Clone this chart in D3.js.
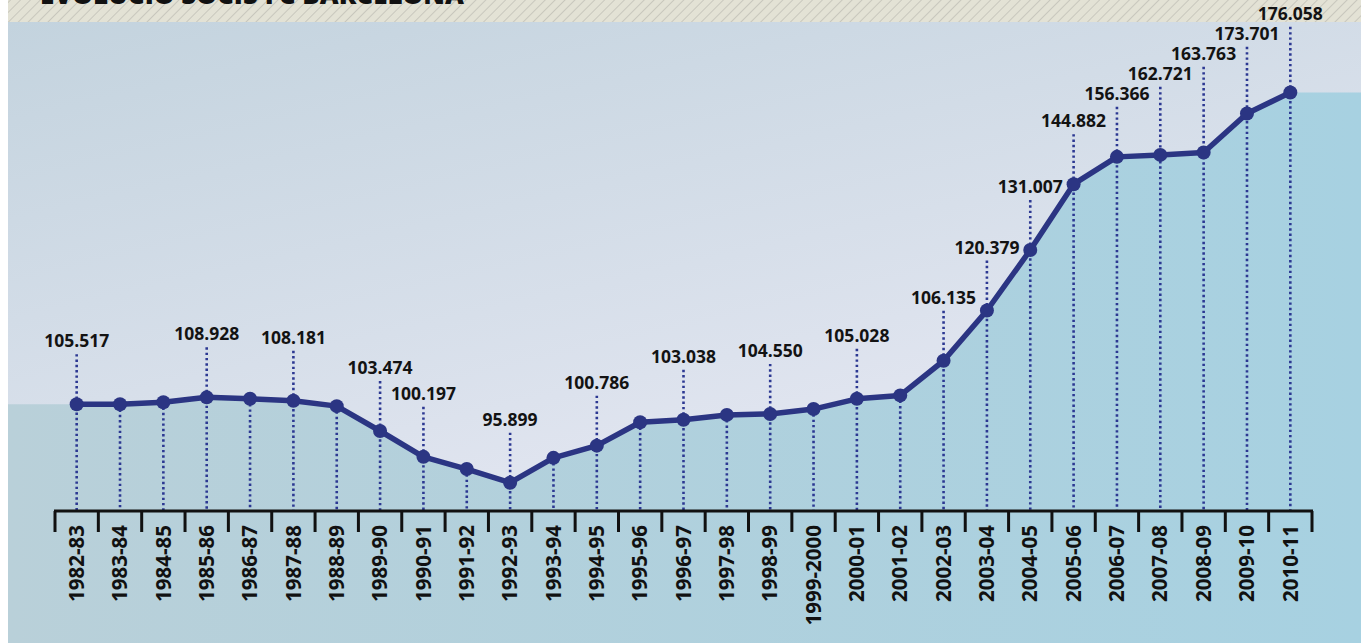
<!DOCTYPE html>
<html>
<head>
<meta charset="utf-8">
<script src="https://cdn.jsdelivr.net/npm/d3@7"></script>
<style>
  html, body { margin: 0; padding: 0; background: #fff; }
  svg { display: block; }
</style>
</head>
<body>
<svg id="chart" width="1361" height="643"></svg>
<script>
// Title of the graphic
const titol = 'EVOLUCIÓ SOCIS FC BARCELONA';

// Seasons on the x axis
const temporades = [
  '1982-83', '1983-84', '1984-85', '1985-86', '1986-87', '1987-88', '1988-89',
  '1989-90', '1990-91', '1991-92', '1992-93', '1993-94', '1994-95', '1995-96',
  '1996-97', '1997-98', '1998-99', '1999-2000', '2000-01', '2001-02', '2002-03',
  '2003-04', '2004-05', '2005-06', '2006-07', '2007-08', '2008-09', '2009-10', '2010-11'
];

// Level of the line as drawn in the graphic (thousands of members;
// the original infographic is not drawn to scale with its printed figures)
const socis = [
  111.9, 111.9, 112.3, 113.3, 113.0, 112.6, 111.5,
  106.4, 101.1, 98.6, 95.8, 100.9, 103.4, 108.2,
  108.7, 109.7, 109.9, 110.9, 113.0, 113.7, 120.8,
  131.1, 143.5, 157.0, 162.6, 163.0, 163.5, 171.5, 175.8
];

// Figures printed above the points (null = no figure)
const etiquetes = [
  '105.517', null, null, '108.928', null, '108.181', null,
  '103.474', '100.197', null, '95.899', null, '100.786', null,
  '103.038', null, '104.550', null, '105.028', null, '106.135',
  '120.379', '131.007', '144.882', '156.366', '162.721', '163.763', '173.701', '176.058'
];

const W = 1361, H = 643;
const left = 8, bandTop = 22;
const axisY = 511;
const ink = '#2b3583';

const svg = d3.select('#chart');
const defs = svg.append('defs');

// Background gradient of the panel
const bg = defs.append('linearGradient').attr('id', 'fons')
  .attr('x1', 0).attr('y1', 0).attr('x2', 0.45).attr('y2', 0.9);
bg.append('stop').attr('offset', 0).attr('stop-color', '#c3d3de');
bg.append('stop').attr('offset', 1).attr('stop-color', '#e6e8f3');

// Gradient of the area under the line
const ag = defs.append('linearGradient').attr('id', 'area')
  .attr('x1', 0).attr('y1', 0).attr('x2', 1).attr('y2', 0);
ag.append('stop').attr('offset', 0).attr('stop-color', '#b9d0d9');
ag.append('stop').attr('offset', 1).attr('stop-color', '#a7d1e1');

// Hatch pattern for the title strip
const pat = defs.append('pattern').attr('id', 'ratlles')
  .attr('patternUnits', 'userSpaceOnUse')
  .attr('width', 7).attr('height', 7)
  .attr('patternTransform', 'rotate(45)');
pat.append('rect').attr('width', 7).attr('height', 7).attr('fill', '#e3e2d5');
pat.append('line').attr('x1', 0).attr('y1', 0).attr('x2', 0).attr('y2', 7)
  .attr('stroke', '#adada5').attr('stroke-width', 1);

svg.append('rect').attr('x', left).attr('y', 0).attr('width', W - left).attr('height', bandTop)
  .attr('fill', 'url(#ratlles)');
svg.append('rect').attr('x', left).attr('y', bandTop).attr('width', W - left).attr('height', H - bandTop)
  .attr('fill', 'url(#fons)');

// Title (only the bottom of it shows, as in the original)
svg.append('text')
  .attr('x', 40).attr('y', 4)
  .style('font-family', '"Open Sans", sans-serif')
  .style('font-weight', 800)
  .style('font-size', '26px')
  .attr('fill', '#111')
  .text(titol);

// Scales
const x = d3.scaleBand().domain(temporades).range([55, 1312]).padding(0);
const y = d3.scaleLinear().domain([90, 180]).range([axisY, 72]);
const cx = d => x(d) + x.bandwidth() / 2;

const data = temporades.map((t, i) => ({ t, v: socis[i], lab: etiquetes[i], px: cx(t) }));

// Area under the line, extended flat to both edges
const areaPts = [{ px: left, v: socis[0] }, ...data, { px: W, v: socis[socis.length - 1] }];
svg.append('path')
  .datum(areaPts)
  .attr('fill', 'url(#area)')
  .attr('d', d3.area().x(d => d.px).y0(H).y1(d => y(d.v)));

// Label positions: above the point, pushed up when two neighbours would collide
let prev = null;
data.forEach(d => {
  if (!d.lab) { prev = null; return; }
  let ly = y(d.v) - 57;
  if (prev !== null && Math.abs(ly - prev) < 20) ly = prev - 20;
  d.ly = ly;
  prev = ly;
});

// Dotted drop lines
svg.append('g').selectAll('line')
  .data(data)
  .enter()
  .append('line')
  .attr('x1', d => d.px).attr('x2', d => d.px)
  .attr('y1', d => d.lab ? d.ly + 7 : y(d.v))
  .attr('y2', axisY)
  .attr('stroke', '#2c3892')
  .attr('stroke-width', 2.6)
  .attr('stroke-dasharray', '2.4 2.9');

// Line and points
svg.append('path')
  .datum(data)
  .attr('fill', 'none')
  .attr('stroke', ink)
  .attr('stroke-width', 5.5)
  .attr('stroke-linejoin', 'round')
  .attr('d', d3.line().x(d => d.px).y(d => y(d.v)));

svg.append('g').selectAll('circle')
  .data(data)
  .enter()
  .append('circle')
  .attr('cx', d => d.px)
  .attr('cy', d => y(d.v))
  .attr('r', 7)
  .attr('fill', ink);

// Value labels
svg.append('g').selectAll('text')
  .data(data.filter(d => d.lab))
  .enter()
  .append('text')
  .attr('x', d => d.px)
  .attr('y', d => d.ly)
  .attr('text-anchor', 'middle')
  .style('font-family', '"Open Sans", sans-serif')
  .style('font-weight', 700)
  .style('font-size', '17.5px')
  .attr('fill', '#131313')
  .text(d => d.lab);

// Axis: baseline, ticks at the band edges, rotated season labels
const axis = svg.append('g').attr('transform', `translate(0,${axisY})`);
const edges = [...temporades.map(t => x(t)), x.range()[1]];
axis.append('line')
  .attr('x1', x.range()[0] - 1).attr('x2', x.range()[1] + 1)
  .attr('stroke', '#111').attr('stroke-width', 3);
axis.selectAll('line.tick-edge')
  .data(edges)
  .enter()
  .append('line')
  .attr('class', 'tick-edge')
  .attr('x1', d => d).attr('x2', d => d)
  .attr('y1', 0).attr('y2', 21)
  .attr('stroke', '#111').attr('stroke-width', 3);

const labels = svg.append('g')
  .attr('transform', `translate(0,${axisY})`)
  .call(d3.axisBottom(x).tickSize(0).tickPadding(0));
labels.select('.domain').remove();
labels.selectAll('text')
  .attr('transform', 'rotate(-90)')
  .attr('x', -14)
  .attr('y', 0)
  .attr('dy', '0.35em')
  .style('text-anchor', 'end')
  .style('font-family', '"Open Sans", sans-serif')
  .style('font-weight', 700)
  .style('font-size', '20.5px')
  .attr('fill', '#111');
</script>
</body>
</html>
